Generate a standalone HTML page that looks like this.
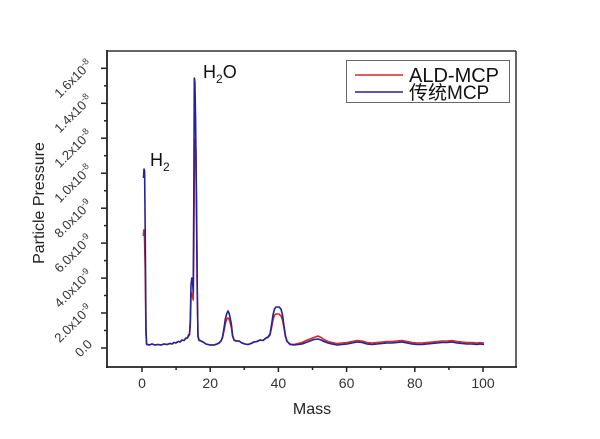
<!DOCTYPE html>
<html><head><meta charset="utf-8"><style>
html,body{margin:0;padding:0;background:#fff;}
svg{display:block;}
text{font-family:"Liberation Sans","Noto Sans CJK SC",sans-serif;}
</style></head><body>
<svg width="600" height="439" viewBox="0 0 600 439" xmlns="http://www.w3.org/2000/svg">
<rect width="600" height="439" fill="#fff"/>
<!-- frame -->
<line x1="107" y1="51" x2="516" y2="51" stroke="#666" stroke-width="2"/>
<line x1="516" y1="51" x2="516" y2="367" stroke="#333" stroke-width="1.5"/>
<line x1="107" y1="50" x2="107" y2="368" stroke="#222" stroke-width="1.8"/>
<line x1="106" y1="367" x2="517" y2="367" stroke="#222" stroke-width="1.8"/>
<!-- y ticks -->
<g stroke="#222" stroke-width="1.5">
<line x1="101" y1="348" x2="107" y2="348"/>
<line x1="101" y1="313" x2="107" y2="313"/>
<line x1="101" y1="278.1" x2="107" y2="278.1"/>
<line x1="101" y1="243.1" x2="107" y2="243.1"/>
<line x1="101" y1="208.2" x2="107" y2="208.2"/>
<line x1="101" y1="173.2" x2="107" y2="173.2"/>
<line x1="101" y1="138.2" x2="107" y2="138.2"/>
<line x1="101" y1="103.3" x2="107" y2="103.3"/>
<line x1="101" y1="68.3" x2="107" y2="68.3"/>
<line x1="104" y1="330.5" x2="107" y2="330.5"/>
<line x1="104" y1="295.5" x2="107" y2="295.5"/>
<line x1="104" y1="260.6" x2="107" y2="260.6"/>
<line x1="104" y1="225.6" x2="107" y2="225.6"/>
<line x1="104" y1="190.7" x2="107" y2="190.7"/>
<line x1="104" y1="155.7" x2="107" y2="155.7"/>
<line x1="104" y1="120.8" x2="107" y2="120.8"/>
<line x1="104" y1="85.8" x2="107" y2="85.8"/>
</g>
<!-- x ticks -->
<g stroke="#222" stroke-width="1.5">
<line x1="142" y1="367" x2="142" y2="372"/>
<line x1="210.2" y1="367" x2="210.2" y2="372"/>
<line x1="278.4" y1="367" x2="278.4" y2="372"/>
<line x1="346.6" y1="367" x2="346.6" y2="372"/>
<line x1="414.8" y1="367" x2="414.8" y2="372"/>
<line x1="483" y1="367" x2="483" y2="372"/>
<line x1="176.1" y1="367" x2="176.1" y2="370"/>
<line x1="244.3" y1="367" x2="244.3" y2="370"/>
<line x1="312.5" y1="367" x2="312.5" y2="370"/>
<line x1="380.7" y1="367" x2="380.7" y2="370"/>
<line x1="448.9" y1="367" x2="448.9" y2="370"/>
</g>
<!-- x tick labels -->
<g font-size="14" fill="#333" text-anchor="middle">
<text x="142" y="388">0</text>
<text x="210.2" y="388">20</text>
<text x="278.4" y="388">40</text>
<text x="346.6" y="388">60</text>
<text x="414.8" y="388">80</text>
<text x="483" y="388">100</text>
</g>
<text x="312" y="414" font-size="16" fill="#222" text-anchor="middle">Mass</text>
<text transform="translate(44,203) rotate(-90)" font-size="16" fill="#222" text-anchor="middle">Particle Pressure</text>
<!-- y tick labels rotated -->
<g font-size="13" fill="#333" text-anchor="end">
<text transform="translate(93,345) rotate(-45)">0.0</text>
<text transform="translate(93,310) rotate(-45)">2.0x10<tspan font-size="9" dy="-5">-9</tspan></text>
<text transform="translate(93,275.1) rotate(-45)">4.0x10<tspan font-size="9" dy="-5">-9</tspan></text>
<text transform="translate(93,240.1) rotate(-45)">6.0x10<tspan font-size="9" dy="-5">-9</tspan></text>
<text transform="translate(93,205.2) rotate(-45)">8.0x10<tspan font-size="9" dy="-5">-9</tspan></text>
<text transform="translate(93,170.2) rotate(-45)">1.0x10<tspan font-size="9" dy="-5">-8</tspan></text>
<text transform="translate(93,135.2) rotate(-45)">1.2x10<tspan font-size="9" dy="-5">-8</tspan></text>
<text transform="translate(93,100.3) rotate(-45)">1.4x10<tspan font-size="9" dy="-5">-8</tspan></text>
<text transform="translate(93,65.3) rotate(-45)">1.6x10<tspan font-size="9" dy="-5">-8</tspan></text>
</g>
<!-- red series -->
<polyline fill="none" stroke="#d8262c" stroke-width="1.6" stroke-linejoin="round" points="143.3,236 143.8,230 144.4,233 145.2,270 146,335 146.6,344.5 149,345 152,344 155,345 158,344.5 161,345 164,344 167,344.5 170,343.5 172,344 174,342.5 176,343 178,341.5 180,342 182,340 184,340.5 186,338 187.5,338 188.5,336 189.5,335 190.3,325 191,298 191.8,293 192.6,296 193.2,300 193.8,250 194.5,145 195.2,139 195.9,150 196.7,220 197.4,300 198,337 199,340.5 201,341 203,342 206,344 210,345 214,345 217,344 219,343 221,341 222.5,338 224,331 225.5,323 227,318.5 228,318 229,319 230,322 231.5,328 232.5,336 234,340 236,341 239,341 242,343 245,344 248,344.5 251,343.5 254,342 257,341.5 260,340 263,340.5 266,338 268,337.5 270,335 271.5,328 273,320 274.5,315 276,314 279,314 281,316 282.5,320 284,328 285.5,337 287,341.5 290,344 294,344.5 298,343.5 302,342.5 306,340.5 310,339 314,337.5 318,336 321,337.5 324,339.5 328,341.5 332,342.5 337,343.5 342,343 347,342.5 352,341.5 357,340.5 362,341 367,342.5 372,343 377,342.5 382,342 387,341.5 392,341.5 397,341 402,340.5 407,341.5 412,342.5 417,343 422,343 427,342.5 432,342 437,341.5 442,341 447,341 452,340.5 457,341.5 462,342 467,342.5 472,342.5 477,343 480,342.5 484,343"/>
<!-- blue series -->
<polyline fill="none" stroke="#23239a" stroke-width="1.6" stroke-linejoin="round" points="143.5,178 144,169 144.6,171 145.2,230 146,330 146.6,344 149,345 152,344 155,345 158,344.5 161,345 164,344 167,344.5 170,343.5 172,344 174,342.5 176,343 178,341.5 180,342 182,340 184,340.5 186,338 187.5,338 188.5,335 189.5,334 190.3,320 191,285 191.8,278 192.6,282 193.2,292 193.8,200 194.3,78 194.9,82 195.6,120 196.4,200 197.2,290 198,336 199,340 201,341 203,342 206,344 210,345 214,345 217,344 219,343 221,341 222.5,337 224,328 225.5,318 227,313 228,311 229,313 230,317 231.5,325 232.5,335 234,340 236,341 239,341 242,343 245,344 248,344.5 251,343.5 254,342 257,341.5 260,340 263,340.5 266,338 268,337 270,334 271.5,325 273,315 274.5,309 276,307 279,307 281,309 282.5,315 284,326 285.5,336 287,341 290,344.5 294,345 298,344.5 302,344 306,342.5 310,341 314,339.5 318,339 321,340 324,341.5 328,343 332,344 337,345 342,344.5 347,344 352,343 357,342 362,342.5 367,344 372,344.5 377,344 382,343.5 387,343 392,343 397,342.5 402,342 407,343 412,344 417,344.5 422,344.5 427,344 432,343.5 437,343 442,342.5 447,342.5 452,342 457,343 462,343.5 467,344 472,344 477,344.5 480,344 484,344.5"/>
<!-- peak labels -->
<text x="150" y="166" font-size="18" fill="#111">H<tspan font-size="12" dy="5">2</tspan></text>
<text x="203" y="78" font-size="18" fill="#111">H<tspan font-size="12" dy="5">2</tspan><tspan dy="-5">O</tspan></text>
<!-- legend -->
<rect x="346.5" y="60.5" width="163" height="42" fill="#fff" stroke="#666" stroke-width="1"/>
<line x1="355" y1="75" x2="403" y2="75" stroke="#d8262c" stroke-width="1.6"/>
<line x1="355" y1="92" x2="403" y2="92" stroke="#23239a" stroke-width="1.6"/>
<text x="409" y="82" font-size="20" fill="#111">ALD-MCP</text>
<text x="409" y="99" font-size="19" fill="#111">传统MCP</text>
</svg>
</body></html>
